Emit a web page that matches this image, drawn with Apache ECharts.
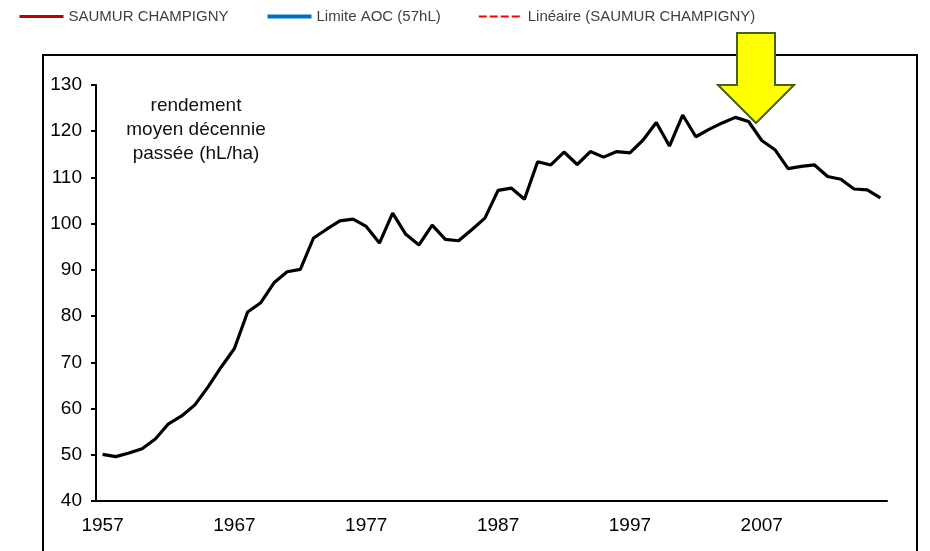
<!DOCTYPE html>
<html>
<head>
<meta charset="utf-8">
<script src="https://cdn.jsdelivr.net/npm/echarts@6/dist/echarts.min.js"></script>
<style>
  html, body { margin: 0; padding: 0; background: #fff; }
  #chart { width: 930px; height: 551px; }
</style>
</head>
<body>
<div id="chart"></div>
<script>
// years 1957 .. 2016
const years = []
for (let y = 1957; y <= 2016; y++) years.push(String(y))

// rendement moyen de la décennie passée (hL/ha)
const rendement = [
  50.1, 49.6, 50.4, 51.3, 53.4, 56.7, 58.4, 60.8, 64.7, 69.0,
  73.0, 80.9, 82.9, 87.2, 89.6, 90.1, 96.9, 98.8, 100.6, 101.0,
  99.4, 95.8, 102.3, 97.7, 95.4, 99.7, 96.6, 96.3, 98.7, 101.2,
  107.2, 107.7, 105.3, 113.4, 112.7, 115.5, 112.8, 115.6, 114.4, 115.6,
  115.3, 118.1, 121.9, 116.8, 123.5, 118.8, 120.4, 121.8, 123.0, 122.1,
  118.0, 116.0, 111.9, 112.4, 112.7, 110.2, 109.6, 107.5, 107.3, 105.6
]

const legendNames = ['SAUMUR CHAMPIGNY', 'Limite AOC (57hL)', 'Linéaire (SAUMUR CHAMPIGNY)']
const legendColors = ['#c00000', '#0070c0', '#ff0000']
const yMin = 40
const yMax = 130
const yStep = 10

const font = 'Liberation Sans, Arial, sans-serif'

const myChart = echarts.init(document.getElementById('chart'))
myChart.setOption({
  animation: false,
  backgroundColor: '#fff',
  textStyle: { fontFamily: font },
  legend: {
    data: [
      { name: legendNames[0], lineStyle: { color: legendColors[0], width: 3 } },
      { name: legendNames[1], lineStyle: { color: legendColors[1], width: 4 } },
      { name: legendNames[2], lineStyle: { color: legendColors[2], width: 2, type: [8, 3] } }
    ],
    left: 18,
    top: 9,
    padding: 0,
    itemWidth: 44,
    itemHeight: 14,
    itemGap: 37,
    itemStyle: { opacity: 0 },
    textStyle: { fontSize: 15, color: '#404040', fontFamily: font }
  },
  grid: {
    left: 96,
    right: 43,
    top: 85,
    bottom: 50
  },
  xAxis: {
    type: 'category',
    data: years,
    boundaryGap: true,
    axisLine: { lineStyle: { color: '#000', width: 2 } },
    axisTick: { interval: 9, length: 5, lineStyle: { color: '#000', width: 2 } },
    axisLabel: { interval: 9, color: '#000', fontSize: 19, margin: 15, fontFamily: font },
    splitLine: { show: false }
  },
  yAxis: {
    type: 'value',
    min: yMin,
    max: yMax,
    interval: yStep,
    axisLine: { show: true, lineStyle: { color: '#000', width: 2 } },
    axisTick: { show: true, length: 5, lineStyle: { color: '#000', width: 2 } },
    axisLabel: { color: '#000', fontSize: 19, margin: 14, fontFamily: font },
    splitLine: { show: false }
  },
  series: [
    {
      name: 'rendement',
      type: 'line',
      data: rendement,
      symbol: 'none',
      lineStyle: { color: '#000', width: 3.2 },
      itemStyle: { color: '#000' }
    },
    {
      name: legendNames[0],
      type: 'line',
      data: [],
      symbol: 'none',
      lineStyle: { color: legendColors[0], width: 3 },
      itemStyle: { color: legendColors[0] }
    },
    {
      name: legendNames[1],
      type: 'line',
      data: [],
      symbol: 'none',
      lineStyle: { color: legendColors[1], width: 4 },
      itemStyle: { color: legendColors[1] }
    },
    {
      name: legendNames[2],
      type: 'line',
      data: [],
      symbol: 'none',
      lineStyle: { color: legendColors[2], width: 2, type: [8, 3] },
      itemStyle: { color: legendColors[2] }
    }
  ],
  graphic: [
    {
      type: 'rect',
      z: -1,
      shape: { x: 43, y: 55, width: 874, height: 530 },
      style: { fill: 'none', stroke: '#000', lineWidth: 2 }
    },
    {
      type: 'text',
      x: 196,
      y: 94,
      style: {
        text: 'rendement\nmoyen décennie\npassée (hL/ha)',
        align: 'center',
        verticalAlign: 'top',
        font: '19px ' + font,
        lineHeight: 24,
        fill: '#111'
      }
    },
    {
      type: 'polygon',
      z: 100,
      shape: {
        points: [[737, 33], [775, 33], [775, 85], [794, 85], [756, 123], [718, 85], [737, 85]]
      },
      style: { fill: '#ffff00', stroke: '#46601f', lineWidth: 2 }
    }
  ]
})
window.addEventListener('resize', function() {
  myChart.resize()
})
</script>
</body>
</html>
